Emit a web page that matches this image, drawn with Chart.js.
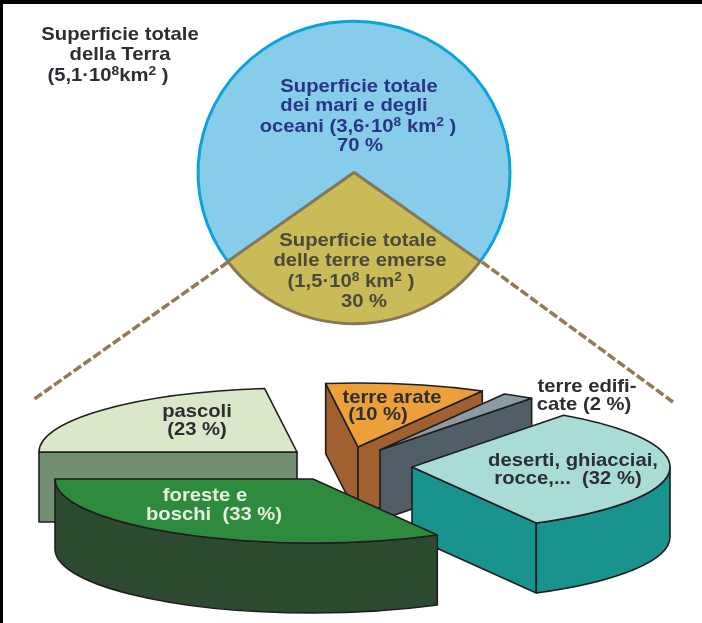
<!DOCTYPE html>
<html>
<head>
<meta charset="utf-8">
<script src="https://cdn.jsdelivr.net/npm/chart.js@4"></script>
<style>
html, body { margin: 0; padding: 0; background: #fff; }
#page { position: relative; width: 702px; height: 623px; overflow: hidden; }
canvas { position: absolute; left: 0; top: 0; }
.frame { position: absolute; background: #000; }
.lbl { position: absolute; transform: translate(-50%, -50%) scaleX(1.065); white-space: pre; font: bold 19px "Liberation Sans", Arial, sans-serif; line-height: 1; }
.lbl sup { font-size: 13px; line-height: 0; vertical-align: 6px; }
</style>
</head>
<body>
<div id="page">
    <canvas id="earthChart" width="702" height="623"></canvas>
    <canvas id="landChart" width="702" height="623"></canvas>
</div>
<script>
// DATA
const earthLabels = ["mari e oceani", "terre emerse"];
const earthValues = [70, 30];
const landLabels = ["pascoli", "terre arate", "terre edificate", "deserti, ghiacciai, rocce", "foreste e boschi"];
const landValues = [23, 10, 2, 32, 33];

// STYLES
const earthFill = ["#87cdea", "#c9bb57"];
const earthEdge = ["#0ba3db", "#8a7655"];
const landTop = ["#dbe7c9", "#eda03a", "#8c9ba1", "#a8dcd4", "#2e8b3e"];
const landSide = ["#728f72", "#a0602f", "#515e66", "#19938d", "#2c4a30"];
const landDepth = 70;
const landFlat = 0.248;
const outline = "#1e1e1e";
// how far each slice is pulled from the centre of the chart
const landShift = [[-54, 140.5], [7, 135.5], [29, 138.5], [61, 155.5], [-38, 167.5]];
const guideLines = [[228, 262, 33, 400], [482, 262, 673, 402]];

// TEXT: html, centre x, centre y, colour
const ink = "#2d2d33", seaInk = "#2b3585", landInk = "#4a4a3c";
const texts = [
    ["Superficie totale", 120, 33, ink],
    ["della Terra", 120, 53, ink],
    ["(5,1·10<sup>8</sup>km<sup>2</sup> )", 108, 74, ink],
    ["Superficie totale", 359, 85, seaInk],
    ["dei mari e degli", 354, 104, seaInk],
    ["oceani (3,6·10<sup>8</sup> km<sup>2</sup> )", 358, 125, seaInk],
    ["70 %", 360, 144, seaInk],
    ["Superficie totale", 358, 239, landInk],
    ["delle terre emerse", 360, 259, landInk],
    ["(1,5·10<sup>8</sup> km<sup>2</sup> )", 351, 280, landInk],
    ["30 %", 364, 300, landInk],
    ["pascoli", 197, 410, ink],
    ["(23 %)", 197, 428, ink],
    ["foreste e", 205, 494, "#e6efe0"],
    ["boschi  (33 %)", 214, 513, "#e6efe0"],
    ["terre arate", 392, 396, ink],
    ["(10 %)", 378, 413, ink],
    ["terre edifi-", 587, 385, ink],
    ["cate (2 %)", 584, 403, ink],
    ["deserti, ghiacciai,", 573, 459, ink],
    ["rocce,...  (32 %)", 568, 477, ink]
];

// TOP PIE, a little squashed
const squash = {
    id: "squash",
    beforeDatasetsDraw(chart) {
        const arc = chart.getDatasetMeta(0).data[0];
        const ctx = chart.ctx;
        ctx.save();
        ctx.translate(354, 172.5);
        ctx.scale(1, 0.97);
        ctx.translate(-arc.x, -arc.y);
    },
    afterDatasetsDraw(chart) {
        chart.ctx.restore();
    }
};

new Chart(document.getElementById("earthChart"), {
    type: "pie",
    data: {
        labels: earthLabels,
        datasets: [{
            data: earthValues,
            backgroundColor: earthFill,
            borderColor: earthEdge,
            borderWidth: 3,
            radius: 156
        }]
    },
    options: {
        responsive: false,
        animation: false,
        rotation: 234,
        plugins: { legend: { display: false }, tooltip: { enabled: false } }
    },
    plugins: [squash]
});

// LOWER PIE: slices flattened, pulled apart and given a thickness
function face(ctx, fill) {
    ctx.fillStyle = fill;
    ctx.fill();
    ctx.strokeStyle = outline;
    ctx.lineWidth = 1.6;
    ctx.lineJoin = "round";
    ctx.stroke();
}

function drawSlice(ctx, arc, i) {
    const cx = arc.x + landShift[i][0];
    const cy = arc.y + landShift[i][1];
    const rx = arc.outerRadius;
    const ry = rx * landFlat;
    const a0 = arc.startAngle;
    const a1 = arc.endAngle;
    const px = a => cx + rx * Math.cos(a);
    const py = a => cy + ry * Math.sin(a);

    // radial walls that face the viewer
    [[a0, -Math.cos(a0)], [a1, Math.cos(a1)]].forEach(([a, facing]) => {
        if (facing <= 0) return;
        ctx.beginPath();
        ctx.moveTo(cx, cy);
        ctx.lineTo(px(a), py(a));
        ctx.lineTo(px(a), py(a) + landDepth);
        ctx.lineTo(cx, cy + landDepth);
        ctx.closePath();
        face(ctx, landSide[i]);
    });

    // outer wall, only the front half of the ellipse
    const turn = Math.PI * 2;
    for (let k = -1; k <= 1; k++) {
        const from = Math.max(a0, k * turn);
        const to = Math.min(a1, k * turn + Math.PI);
        if (to <= from) continue;
        ctx.beginPath();
        ctx.ellipse(cx, cy, rx, ry, 0, from, to);
        ctx.ellipse(cx, cy + landDepth, rx, ry, 0, to, from, true);
        ctx.closePath();
        face(ctx, landSide[i]);
    }

    // top
    ctx.beginPath();
    ctx.moveTo(cx, cy);
    ctx.ellipse(cx, cy, rx, ry, 0, a0, a1);
    ctx.closePath();
    face(ctx, landTop[i]);
}

const explode = {
    id: "explode",
    beforeDatasetDraw(chart) {
        const ctx = chart.ctx;
        ctx.save();
        ctx.strokeStyle = "#917b50";
        ctx.lineWidth = 3.5;
        ctx.setLineDash([9, 3]);
        guideLines.forEach(g => {
            ctx.beginPath();
            ctx.moveTo(g[0], g[1]);
            ctx.lineTo(g[2], g[3]);
            ctx.stroke();
        });
        ctx.setLineDash([]);
        chart.getDatasetMeta(0).data.forEach((arc, i) => drawSlice(ctx, arc, i));
        ctx.restore();
        return false;
    }
};

new Chart(document.getElementById("landChart"), {
    type: "pie",
    data: {
        labels: landLabels,
        datasets: [{
            data: landValues,
            backgroundColor: landTop,
            radius: 258
        }]
    },
    options: {
        responsive: false,
        animation: false,
        rotation: 270,
        plugins: { legend: { display: false }, tooltip: { enabled: false } }
    },
    plugins: [explode]
});

// LABELS
const page = document.getElementById("page");
texts.forEach(t => {
    const el = document.createElement("div");
    el.className = "lbl";
    el.innerHTML = t[0];
    el.style.left = t[1] + "px";
    el.style.top = t[2] + "px";
    el.style.color = t[3];
    page.appendChild(el);
});

// black frame of the scan
[[0, 0, 702, 4], [0, 0, 3, 623]].forEach(f => {
    const el = document.createElement("div");
    el.className = "frame";
    el.style.cssText += `left:${f[0]}px;top:${f[1]}px;width:${f[2]}px;height:${f[3]}px`;
    page.appendChild(el);
});
</script>
</body>
</html>
